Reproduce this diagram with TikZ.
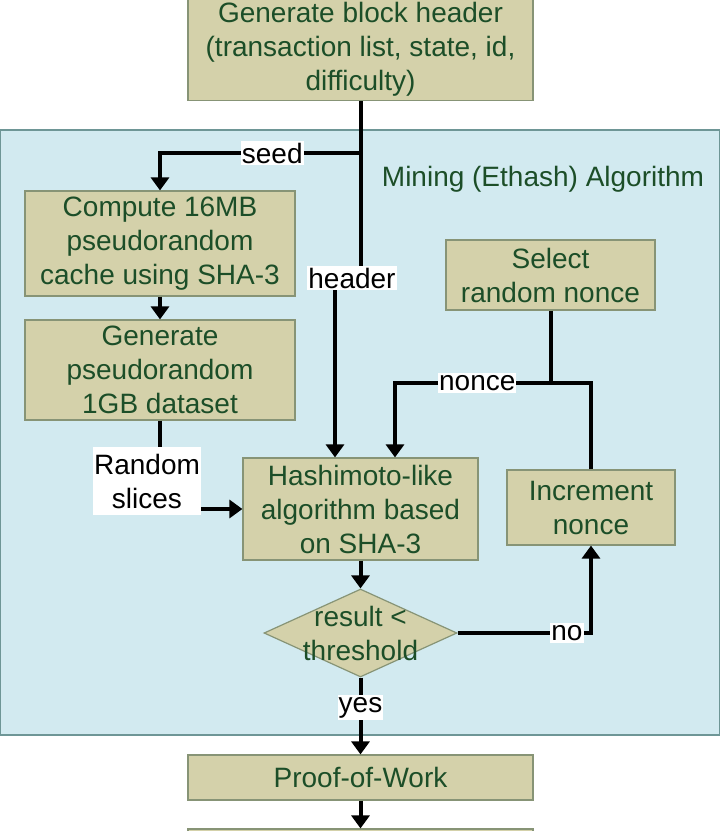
\documentclass[tikz,border=0pt]{standalone}
\usepackage{fontspec}
\setmainfont{Liberation Sans}
\usetikzlibrary{arrows.meta,shapes.geometric}
\definecolor{boxfill}{RGB}{212,209,170}
\definecolor{boxline}{RGB}{135,148,118}
\definecolor{minefill}{RGB}{210,234,240}
\definecolor{mineline}{RGB}{110,150,150}
\definecolor{txtgreen}{RGB}{28,78,40}

\tikzset{
  blok/.style={draw=boxline, fill=boxfill, text=txtgreen, align=center, inner sep=0pt, line width=0.6pt},
  lab/.style={fill=white, text=black, align=center, inner xsep=0.5pt, inner ysep=1pt},
  flow/.style={line width=2pt, -{Triangle[width=9pt,length=6.5pt]}},
  wire/.style={line width=2pt}
}

\begin{document}
\begin{tikzpicture}[x=0.5pt, y=-0.5pt, font=\fontsize{14}{17}\selectfont]
\useasboundingbox (0,0) rectangle (720,831);
\clip (0,0) rectangle (720,831);

% mining area
\draw [mineline, fill=minefill, line width=0.8pt] (0.5,130) rectangle (719.5,735);
\node [text=txtgreen] (title) at (543,179) {Mining (Ethash) Algorithm};

% boxes
\node [blok, minimum width=172.5pt, minimum height=51pt] (hdr) at (360.5,49.5) {Generate block header\\(transaction list, state, id,\\difficulty)};
\node [blok, minimum width=135pt, minimum height=52.5pt] (cache) at (160,243.5) {Compute 16MB\\pseudorandom\\cache using SHA-3};
\node [blok, minimum width=135pt, minimum height=50pt] (data) at (160,370) {Generate\\pseudorandom\\1GB dataset};
\node [blok, minimum width=104.5pt, minimum height=35pt] (sel) at (550.5,275) {Select\\random nonce};
\node [blok, minimum width=117.5pt, minimum height=51pt] (hash) at (360.5,509) {Hashimoto-like\\algorithm based\\on SHA-3};
\node [blok, minimum width=84pt, minimum height=37.5pt] (inc) at (591,507.5) {Increment\\nonce};
\node [blok, shape=diamond, minimum width=96.5pt, minimum height=44pt,
       label={[text=txtgreen, align=center]center:result <\\threshold}] (dec) at (360.5,633) {};
\node [blok, minimum width=172.5pt, minimum height=22.5pt] (pow) at (360.5,777.5) {Proof-of-Work};
\node [blok, minimum width=172.5pt, minimum height=31pt] (next) at (360.5,860) {};

% connectors
\coordinate (seedj) at (360.5,153);
\coordinate (nj) at (550.5,383);
\coordinate (nl) at (395,383);

\draw [flow] (hdr.south) -- (seedj) -| node [lab, pos=0.22] {seed} (cache.north);
\draw [flow] (hdr.south) -- (360.5,278) -| ([xshift=-12.75pt]hash.north);
\node [lab] (hlab) at (352,278) {header};

\draw [flow] (cache) -- (data);
\draw [flow] (data.south) |- (hash.west);
\node [lab, minimum height=34pt] (slices) at (147,481) {Random\\slices};

\draw [wire] (sel.south) -- (nj);
\draw [flow] (inc.north) |- node [lab, pos=0.79] {nonce} (nl) -- (nl |- hash.north);

\draw [flow] (hash) -- (dec);
\draw [flow] (dec.east) -| node [lab, pos=0.41] {no} (inc.south);
\draw [flow] (dec) -- node [lab, pos=0.39] {yes} (pow);
\draw [flow] (pow) -- (next);
\end{tikzpicture}
\end{document}
